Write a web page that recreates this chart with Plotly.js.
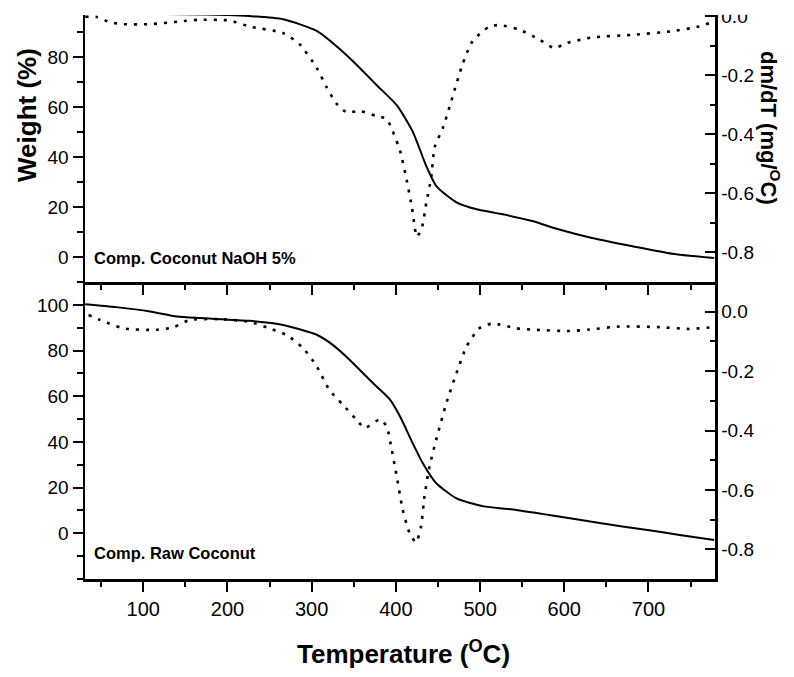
<!DOCTYPE html>
<html>
<head>
<meta charset="utf-8">
<script src="https://cdn.plot.ly/plotly-3.0.1.min.js"></script>
<style>html,body{margin:0;padding:0;background:#fff;}#chart{width:794px;height:677px;}</style>
</head>
<body>
<div id="chart"></div>
<script>
// Top panel: Comp. Coconut NaOH 5%
const tempNaohTG = [31, 60, 100, 150, 200, 226, 266, 306, 345, 377, 401, 420, 436, 448, 472, 496, 527, 562, 594, 633, 681, 728, 778];
const weightNaoh = [97.5, 97.4, 97.3, 97.2, 96.9, 96.5, 95.2, 90.5, 79.7, 68.9, 60.8, 50.2, 36.5, 28.4, 21.9, 19.1, 17.1, 14.4, 11.0, 7.6, 4.3, 1.3, -0.4];
const tempNaohDTG = [31, 45, 60, 76, 108, 143, 167, 203, 226, 266, 286, 306, 318, 330, 342, 357, 377, 389, 396, 405, 413, 419, 425, 431, 436, 442, 446, 456, 467, 479, 491, 511, 523, 546, 571, 588, 603, 633, 681, 728, 760, 778];
const dmdtNaoh = [-0.002, -0.003, -0.02, -0.027, -0.027, -0.018, -0.012, -0.015, -0.035, -0.057, -0.096, -0.175, -0.242, -0.298, -0.326, -0.321, -0.338, -0.348, -0.388, -0.456, -0.557, -0.647, -0.747, -0.714, -0.634, -0.545, -0.444, -0.377, -0.276, -0.164, -0.085, -0.035, -0.03, -0.045, -0.08, -0.108, -0.091, -0.072, -0.063, -0.051, -0.035, -0.018];

// Bottom panel: Comp. Raw Coconut
const tempRawTG = [31, 68, 108, 140, 167, 226, 266, 306, 325, 345, 365, 377, 393, 405, 420, 432, 448, 472, 503, 543, 582, 642, 701, 737, 778];
const weightRaw = [100.3, 99, 97.1, 94.9, 94.2, 93.0, 91.2, 86.9, 82.5, 76.0, 68.6, 64.3, 58.5, 51.1, 39.4, 30.7, 21.9, 15.3, 11.9, 10.2, 8.0, 4.5, 1.3, -0.7, -2.9];
const tempRawDTG = [35, 49, 76, 116, 136, 155, 190, 226, 250, 270, 290, 306, 321, 337, 353, 363, 381, 389, 395, 401, 408, 416, 424, 430, 434, 440, 448, 460, 472, 484, 499, 515, 543, 567, 606, 630, 665, 713, 748, 778];
const dmdtRaw = [-0.011, -0.028, -0.056, -0.061, -0.052, -0.028, -0.025, -0.034, -0.056, -0.078, -0.123, -0.184, -0.263, -0.313, -0.363, -0.391, -0.363, -0.386, -0.464, -0.554, -0.665, -0.743, -0.777, -0.721, -0.621, -0.520, -0.430, -0.307, -0.207, -0.117, -0.056, -0.040, -0.056, -0.061, -0.065, -0.060, -0.050, -0.052, -0.058, -0.052];

// Tick labels
const weightTicks = [0, 20, 40, 60, 80, 100];
const weightTickText = ['0', '20', '40', '60', '80', '100'];
const dmdtTicks = [-0.8, -0.6, -0.4, -0.2, 0.0];
const dmdtTickText = ['-0.8', '-0.6', '-0.4', '-0.2', '0.0'];
const tempTicks = [100, 200, 300, 400, 500, 600, 700];
const tempTickText = ['100', '200', '300', '400', '500', '600', '700'];

const panelLabels = ['Comp. Coconut NaOH 5%', 'Comp. Raw Coconut'];

const W = 794, H = 677;
const L = 85, R = 79, T = 15, B = 98;
const plotH = H - T - B; // 564
const split = 297 / plotH;
function px2paperY(py) { return (H - B - py) / plotH; }
function px2paperX(px) { return (px - L) / (W - L - R); }

const solid = {color: '#000', width: 2, shape: 'spline', smoothing: 0.6};
const dotted = {color: '#000', width: 2.6, dash: '3px,7px', shape: 'spline', smoothing: 0.6};

const traces = [
  {x: tempRawTG, y: weightRaw, xaxis: 'x', yaxis: 'y', mode: 'lines', line: solid},
  {x: tempRawDTG, y: dmdtRaw, xaxis: 'x', yaxis: 'y2', mode: 'lines', line: dotted},
  {x: tempNaohTG, y: weightNaoh, xaxis: 'x2', yaxis: 'y3', mode: 'lines', line: solid},
  {x: tempNaohDTG, y: dmdtNaoh, xaxis: 'x2', yaxis: 'y4', mode: 'lines', line: dotted}
];

const tickFont = {family: 'Liberation Sans, Arial, sans-serif', size: 19, color: '#000'};
const common = {showline: true, linewidth: 2.5, linecolor: '#000', showgrid: false, zeroline: false,
  tickcolor: '#000', tickwidth: 2, ticklen: 10, tickfont: tickFont};
const xMinor = {dtick: 50, tick0: 0, ticks: 'outside', ticklen: 5, tickwidth: 2, tickcolor: '#000'};
const wMinor = {dtick: 10, tick0: 0, ticks: 'outside', ticklen: 6, tickwidth: 2, tickcolor: '#000'};
const dMinor = {dtick: 0.1, tick0: 0, ticks: 'inside', ticklen: 5, tickwidth: 2, tickcolor: '#000'};

const layout = {
  width: W, height: H,
  margin: {l: L, r: R, t: T, b: B, pad: 0},
  paper_bgcolor: '#fff', plot_bgcolor: '#fff',
  showlegend: false,
  xaxis: Object.assign({}, common, {domain: [0, 1], anchor: 'y', range: [30.8, 779],
    tickmode: 'array', tickvals: tempTicks, ticktext: tempTickText,
    ticks: 'outside', tickfont: {family: 'Liberation Sans, Arial, sans-serif', size: 20, color: '#000'},
    minor: xMinor}),
  xaxis2: Object.assign({}, common, {domain: [0, 1], anchor: 'y3', matches: 'x', range: [30.8, 779],
    tickmode: 'array', tickvals: tempTicks, ticktext: tempTickText,
    ticks: 'outside', showticklabels: false, minor: xMinor}),
  yaxis: Object.assign({}, common, {domain: [0, split], anchor: 'x', range: [-20, 110],
    tickmode: 'array', tickvals: weightTicks, ticktext: weightTickText,
    ticks: 'outside', minor: wMinor}),
  yaxis2: Object.assign({}, common, {domain: [0, split], anchor: 'x', overlaying: 'y', side: 'right', range: [-0.9, 0.1],
    tickmode: 'array', tickvals: dmdtTicks, ticktext: dmdtTickText, ticks: 'inside', minor: dMinor}),
  yaxis3: Object.assign({}, common, {domain: [split, 1], anchor: 'x2', range: [-10, 96.9],
    tickmode: 'array', tickvals: weightTicks, ticktext: weightTickText,
    ticks: 'outside', minor: wMinor}),
  yaxis4: Object.assign({}, common, {domain: [split, 1], anchor: 'x2', overlaying: 'y3', side: 'right', range: [-0.9, 0.004],
    tickmode: 'array', tickvals: dmdtTicks, ticktext: dmdtTickText, ticks: 'inside', minor: dMinor}),
  shapes: [
    {type: 'rect', xref: 'paper', yref: 'paper', x0: -0.3, x1: 1.3, y0: px2paperY(14.8), y1: 1.1,
     fillcolor: '#fff', line: {width: 0}, layer: 'above'}
  ],
  annotations: [
    {text: panelLabels[0], xref: 'paper', yref: 'paper', x: px2paperX(92), y: px2paperY(258),
     xanchor: 'left', yanchor: 'middle', showarrow: false,
     font: {family: 'Liberation Sans, Arial, sans-serif', size: 16.5, color: '#000', weight: 'bold'}},
    {text: panelLabels[1], xref: 'paper', yref: 'paper', x: px2paperX(92), y: px2paperY(553),
     xanchor: 'left', yanchor: 'middle', showarrow: false,
     font: {family: 'Liberation Sans, Arial, sans-serif', size: 16.5, color: '#000', weight: 'bold'}},
    {text: 'Weight (%)', xref: 'paper', yref: 'paper', x: px2paperX(27), y: px2paperY(115),
     xanchor: 'center', yanchor: 'middle', textangle: -90, showarrow: false,
     font: {family: 'Liberation Sans, Arial, sans-serif', size: 26, color: '#000', weight: 'bold'}},
    {text: 'dm/dT (mg/<sup>O</sup>C)', xref: 'paper', yref: 'paper', x: px2paperX(770), y: px2paperY(128),
     xanchor: 'center', yanchor: 'middle', textangle: 90, showarrow: false,
     font: {family: 'Liberation Sans, Arial, sans-serif', size: 22, color: '#000', weight: 'bold'}},
    {text: 'Temperature (<sup>O</sup>C)', xref: 'paper', yref: 'paper', x: px2paperX(403), y: px2paperY(652),
     xanchor: 'center', yanchor: 'middle', showarrow: false,
     font: {family: 'Liberation Sans Narrow, Liberation Sans, Arial, sans-serif', size: 26, color: '#000', weight: 'bold'}}
  ]
};

Plotly.newPlot('chart', traces, layout, {staticPlot: true, displayModeBar: false});
</script>
</body>
</html>
